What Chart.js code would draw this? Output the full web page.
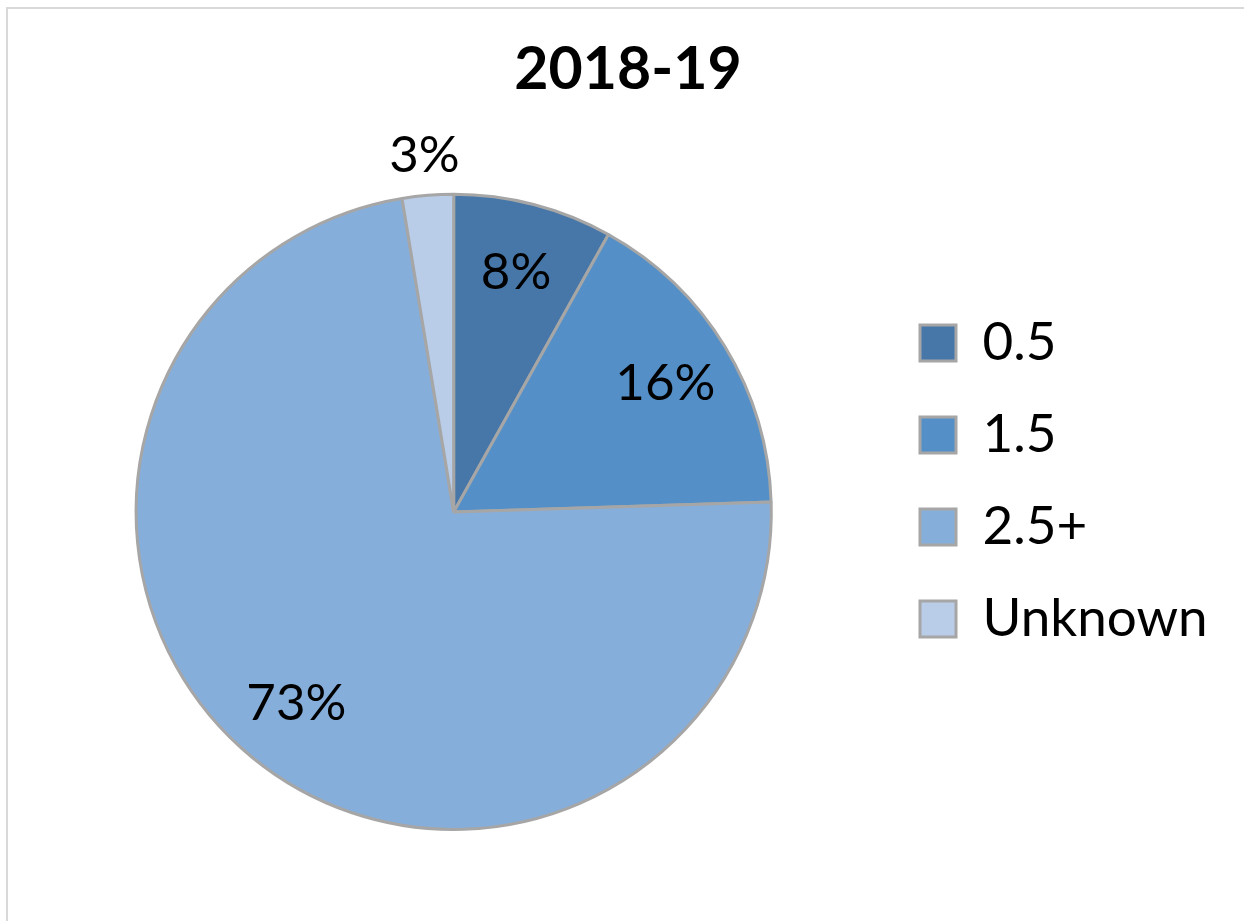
<!DOCTYPE html>
<html>
<head>
<meta charset="utf-8">
<script src="https://cdn.jsdelivr.net/npm/chart.js@4/dist/chart.umd.min.js"></script>
<style>
  body { margin: 0; background: #fff; overflow: hidden; }
  #wrap { position: relative; width: 1244px; height: 921px; overflow: hidden; }
  #frame { position: absolute; left: 6px; top: 7px; width: 1400px; height: 1100px; border: 2px solid #d9d9d9; }
  #chart { position: absolute; left: 0; top: 0; }
</style>
</head>
<body>
<div id="wrap">
  <div id="frame"></div>
  <canvas id="chart" width="1244" height="921"></canvas>
</div>
<script>
// Share of cases by category, 2018-19
const categories = ['0.5', '1.5', '2.5+', 'Unknown'];
const shares = [8.1, 16.4, 72.9, 2.6];
const sliceColors = ['#4677a8', '#5490c7', '#86aedb', '#b9cde8'];
const chartTitle = '2018-19';

const FONT = 'Lato, "Open Sans", sans-serif';
const LEGEND_SIZE = 53;

// puts the percentage labels on the slices (small slices get it outside)
const sliceLabels = {
    id: 'sliceLabels',
    afterDatasetsDraw: function(chart) {
        const ctx = chart.ctx;
        const meta = chart.getDatasetMeta(0);
        const total = shares.reduce((a, b) => a + b, 0);
        ctx.save();
        ctx.font = '51px ' + FONT;
        ctx.fillStyle = '#000';
        ctx.textAlign = 'center';
        ctx.textBaseline = 'middle';
        meta.data.forEach((arc, i) => {
            const p = arc.getProps(['x', 'y', 'startAngle', 'endAngle', 'outerRadius'], true);
            const mid = (p.startAngle + p.endAngle) / 2;
            const pct = shares[i] / total * 100;
            const r = pct < 5 ? p.outerRadius + 40 : p.outerRadius * 0.78;
            ctx.fillText(Math.round(pct) + '%', p.x + Math.cos(mid) * r, p.y + Math.sin(mid) * r);
        });
        ctx.restore();
    }
};

// moves the legend block (and the title a bit) to where the original has them
const legendPlace = {
    id: 'legendPlace',
    afterLayout: function(chart) {
        const lg = chart.legend;
        const pad = lg.options.labels.padding;
        const firstCenter = 343;
        const itemH = Math.max(lg.options.labels.boxHeight, LEGEND_SIZE);
        const y0 = firstCenter - itemH / 2;
        const colH = lg.columnSizes[0].height;
        lg.top = 2 * y0 - pad - lg.bottom + colH;
        lg.left = 920 - pad;

        const tb = chart.titleBlock;
        tb.left += 6;
        tb.right += 6;
    }
};

new Chart(document.getElementById('chart'), {
    type: 'pie',
    data: {
        labels: categories,
        datasets: [{
            data: shares,
            backgroundColor: sliceColors,
            borderColor: '#a6a6a6',
            borderWidth: 3
        }]
    },
    options: {
        responsive: false,
        animation: false,
        devicePixelRatio: 1,
        layout: { padding: { left: 0, right: 0, top: 0, bottom: 90 } },
        plugins: {
            title: {
                display: true,
                text: chartTitle,
                color: '#000',
                font: { family: FONT, size: 59, weight: 'bold' },
                padding: { top: 35, bottom: 87 }
            },
            legend: {
                position: 'right',
                labels: {
                    boxWidth: 36,
                    boxHeight: 36,
                    padding: 92 - LEGEND_SIZE,
                    color: '#000',
                    font: { family: FONT, size: LEGEND_SIZE }
                }
            },
            tooltip: { enabled: false }
        }
    },
    plugins: [sliceLabels, legendPlace]
});
</script>
</body>
</html>
